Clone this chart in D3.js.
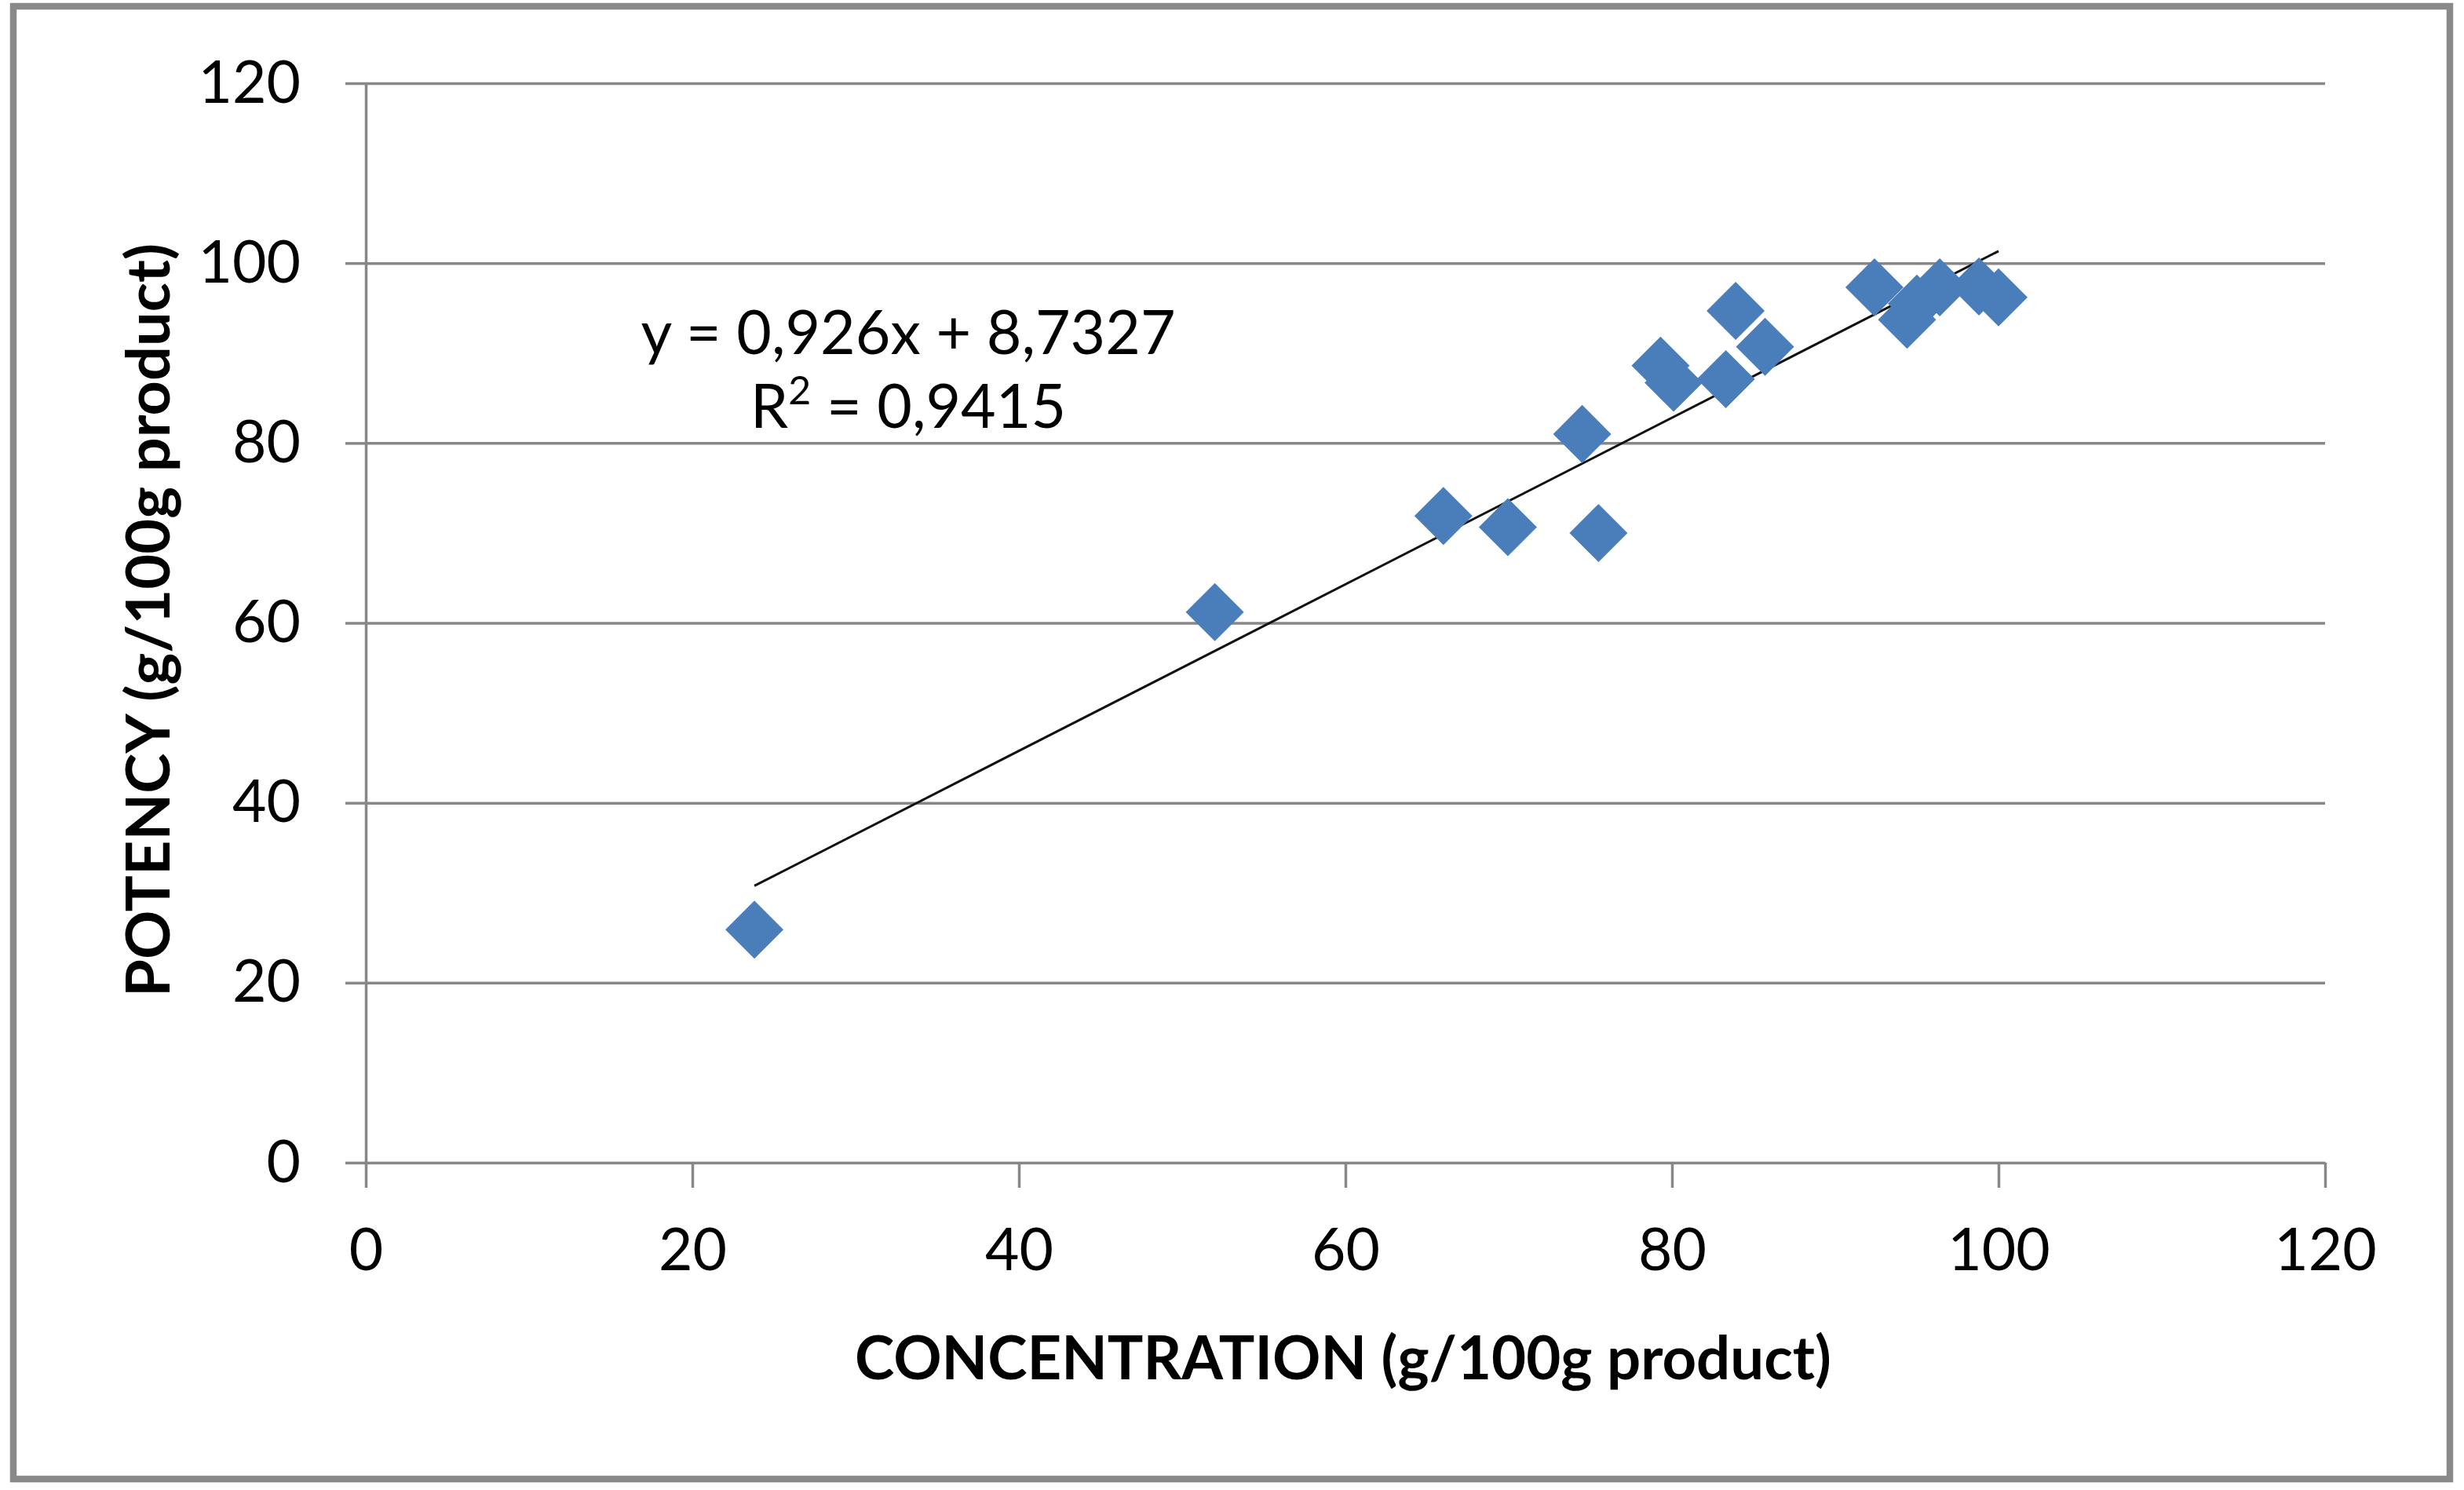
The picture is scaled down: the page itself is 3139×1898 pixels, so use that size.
<!DOCTYPE html>
<html>
<head>
<meta charset="utf-8">
<script src="https://cdn.jsdelivr.net/npm/d3@7"></script>
<style>
    body { margin: 0; background: #fff; }
    svg text { font-family: Lato, "Open Sans", sans-serif; fill: #000; }
</style>
</head>
<body>
<div id="chart"></div>
<script>
// Data
const concentration = [23.8, 52.0, 66.0, 69.95, 75.5, 74.5, 79.3, 80.1, 83.3, 83.9, 85.7, 92.4, 94.4, 95.0, 96.4, 98.8, 100.0];
const potency = [25.9, 61.2, 71.9, 70.65, 70.0, 81.0, 88.6, 86.7, 87.1, 94.7, 90.7, 97.3, 93.7, 95.5, 97.3, 97.4, 96.2];
const xTicks = [0, 20, 40, 60, 80, 100, 120];
const yTicks = [0, 20, 40, 60, 80, 100, 120];
const slope = 0.926;
const intercept = 8.7327;
const equationText = 'y = 0,926x + 8,7327';
const rSquaredText = ' = 0,9415';
const xTitle = 'CONCENTRATION (g/100g product)';
const yTitle = 'POTENCY (g/100g product)';

const W = 3139, H = 1898;
const plot = { left: 466, right: 2962, top: 106, bottom: 1481 };
const gridColor = '#878787';

const svg = d3.select('#chart').append('svg')
    .attr('width', W)
    .attr('height', H);

svg.append('rect')
    .attr('width', W).attr('height', H)
    .attr('fill', '#fff');

// Outer chart border
svg.append('rect')
    .attr('x', 17).attr('y', 8)
    .attr('width', 3104).attr('height', 1876)
    .attr('fill', 'none')
    .attr('stroke', '#898989')
    .attr('stroke-width', 8.5);

const x = d3.scaleLinear().domain([0, 120]).range([plot.left, plot.right]);
const y = d3.scaleLinear().domain([0, 120]).range([plot.bottom, plot.top]);

// Horizontal gridlines
svg.append('g')
    .attr('transform', `translate(${plot.left},0)`)
    .call(d3.axisLeft(y).tickValues(yTicks.filter(d => d > 0)).tickSize(-(plot.right - plot.left)).tickFormat(''))
    .call(g => g.select('.domain').remove())
    .call(g => g.selectAll('line').attr('stroke', gridColor).attr('stroke-width', 3.5));

// Y axis
const yAxis = svg.append('g')
    .attr('transform', `translate(${plot.left},0)`)
    .call(d3.axisLeft(y).tickValues(yTicks).tickSize(26).tickSizeOuter(0).tickPadding(57));
yAxis.select('.domain').attr('stroke', gridColor).attr('stroke-width', 3.5);
yAxis.selectAll('line').attr('stroke', gridColor).attr('stroke-width', 3.5);
yAxis.selectAll('text')
    .attr('font-size', 75)
    .attr('font-family', 'Lato, sans-serif')
    .attr('fill', '#000');

// X axis
const xAxis = svg.append('g')
    .attr('transform', `translate(0,${plot.bottom})`)
    .call(d3.axisBottom(x).tickValues(xTicks).tickSize(32).tickSizeOuter(0).tickPadding(52));
xAxis.select('.domain').attr('stroke', gridColor).attr('stroke-width', 3.5);
xAxis.selectAll('line').attr('stroke', gridColor).attr('stroke-width', 3.5);
xAxis.selectAll('text')
    .attr('font-size', 75)
    .attr('font-family', 'Lato, sans-serif')
    .attr('fill', '#000');

// Linear trendline over the data range
const xMin = d3.min(concentration), xMax = d3.max(concentration);
svg.append('line')
    .attr('x1', x(xMin)).attr('y1', y(slope * xMin + intercept))
    .attr('x2', x(xMax)).attr('y2', y(slope * xMax + intercept))
    .attr('stroke', '#111')
    .attr('stroke-width', 3);

// Diamond markers
const points = concentration.map((c, i) => ({ x: c, y: potency[i] }));
const diamond = d3.symbol().type(d3.symbolSquare).size(2738);
svg.append('g')
    .selectAll('path')
    .data(points)
    .enter()
    .append('path')
    .attr('d', diamond)
    .attr('transform', d => `translate(${x(d.x)},${y(d.y)}) rotate(45)`)
    .attr('fill', '#4a7ebb');

// Equation label
svg.append('text')
    .attr('x', 1157).attr('y', 451)
    .attr('text-anchor', 'middle')
    .attr('font-size', 77)
    .text(equationText);

const r2 = svg.append('text')
    .attr('x', 1157).attr('y', 545)
    .attr('text-anchor', 'middle')
    .attr('font-size', 77);
r2.append('tspan').text('R');
r2.append('tspan').attr('font-size', 50).attr('dy', -30).text('2');
r2.append('tspan').attr('dy', 30).text(rSquaredText);

// Axis titles
svg.append('text')
    .attr('x', 1711).attr('y', 1757)
    .attr('text-anchor', 'middle')
    .attr('font-size', 76)
    .attr('font-weight', 'bold')
    .attr('textLength', 1244)
    .attr('lengthAdjust', 'spacingAndGlyphs')
    .text(xTitle);

svg.append('text')
    .attr('transform', `translate(216,790) rotate(-90)`)
    .attr('text-anchor', 'middle')
    .attr('font-size', 76)
    .attr('font-weight', 'bold')
    .attr('textLength', 960)
    .attr('lengthAdjust', 'spacingAndGlyphs')
    .text(yTitle);
</script>
</body>
</html>
